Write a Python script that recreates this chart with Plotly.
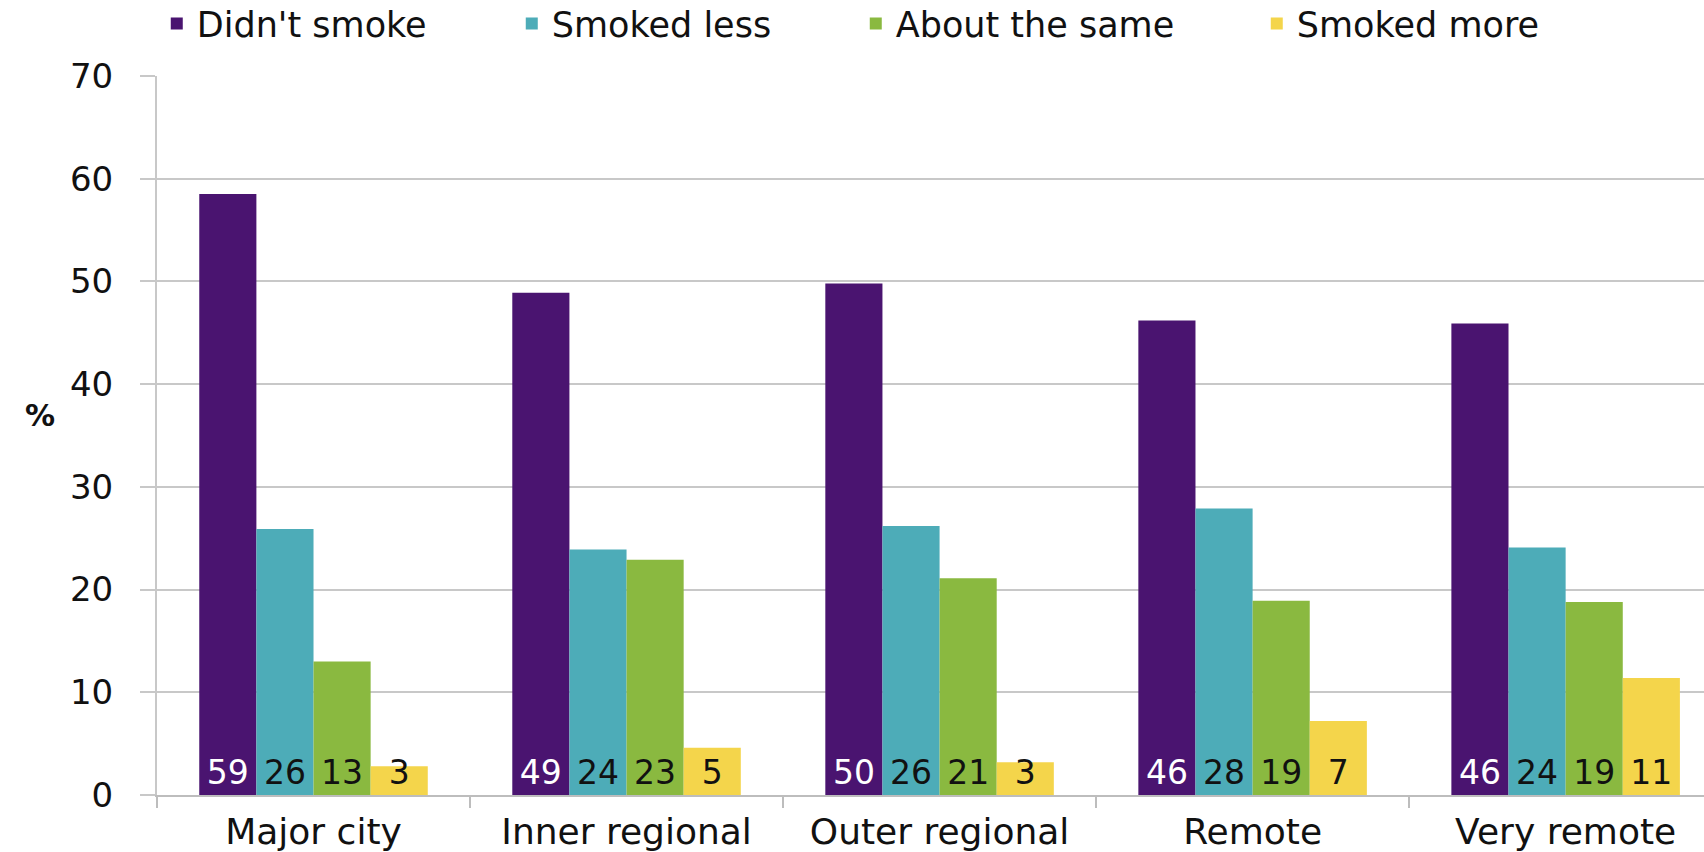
import plotly.graph_objects as go

categories = ["Major city", "Inner regional", "Outer regional", "Remote", "Very remote"]
series_names = ["Didn't smoke", "Smoked less", "About the same", "Smoked more"]
didnt_smoke = [58.5, 48.9, 49.8, 46.2, 45.9]
smoked_less = [25.9, 23.9, 26.2, 27.9, 24.1]
about_same = [13.0, 22.9, 21.1, 18.9, 18.8]
smoked_more = [2.8, 4.6, 3.2, 7.2, 11.4]
labels_didnt = ["59", "49", "50", "46", "46"]
labels_less = ["26", "24", "26", "28", "24"]
labels_same = ["13", "23", "21", "19", "19"]
labels_more = ["3", "5", "3", "7", "11"]
y_ticks = [0, 10, 20, 30, 40, 50, 60, 70]

values = [didnt_smoke, smoked_less, about_same, smoked_more]
labels = [labels_didnt, labels_less, labels_same, labels_more]
colors = ["#4A1470", "#4DACB8", "#8AB940", "#F4D54B"]
text_colors = ["#FFFFFF", "#111111", "#111111", "#111111"]
legend_widths = [310, 299, 356, 300]

FONT = "DejaVu Sans"

fig = go.Figure()
for name, vals, labs, col, tcol, lw in zip(series_names, values, labels, colors, text_colors, legend_widths):
    fig.add_trace(go.Bar(
        x=categories, y=vals, name=name,
        marker=dict(color=col, line=dict(width=0)),
        text=labs, textposition="inside", insidetextanchor="start",
        constraintext="none", textangle=0, cliponaxis=False,
        textfont=dict(family=FONT, size=33, color=tcol),
        legendwidth=lw,
        hoverinfo="skip",
    ))

fig.update_layout(
    width=1704, height=852,
    paper_bgcolor="white", plot_bgcolor="white",
    barmode="group", bargap=0.27, bargroupgap=0,
    margin=dict(l=157, r=0, t=76, b=57, autoexpand=False),
    font=dict(family=FONT, color="#111111"),
    showlegend=True,
    legend=dict(
        orientation="h", xref="container", yref="container",
        x=0.092, y=0.972, xanchor="left", yanchor="middle",
        font=dict(family=FONT, size=35, color="#111111"),
        traceorder="normal", bgcolor="rgba(0,0,0,0)",
    ),
)

fig.update_xaxes(
    type="category", range=[-0.5, 4.442],
    showline=True, linecolor="#BDBDBD", linewidth=2,
    ticks="outside", tickson="boundaries", ticklen=11, tickcolor="#BDBDBD", tickwidth=1.5,
    ticklabelstandoff=4,
    tickfont=dict(family=FONT, size=36, color="#111111"),
    showgrid=False, automargin=False,
)
fig.update_yaxes(
    range=[0, 70], tickvals=y_ticks,
    showline=True, linecolor="#C8C8C8", linewidth=2,
    ticks="outside", ticklen=15, tickcolor="#C8C8C8", tickwidth=1.5,
    ticklabelstandoff=20,
    tickfont=dict(family=FONT, size=34, color="#111111"),
    showgrid=True, gridcolor="#C8C8C8", gridwidth=1.5,
    zeroline=False, automargin=False,
)

fig.add_annotation(
    text="<b>%</b>", xref="paper", yref="paper",
    x=-0.0756, y=0.5275, xanchor="center", yanchor="middle",
    showarrow=False, font=dict(family=FONT, size=30, color="#111111"),
)

fig.write_html("out.html")
